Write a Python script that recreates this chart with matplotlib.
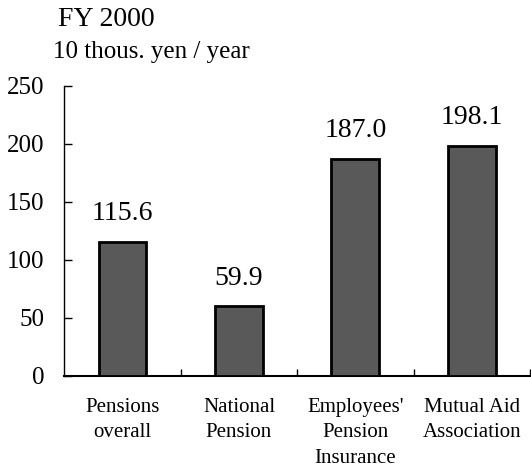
import matplotlib
matplotlib.use("Agg")
import matplotlib.pyplot as plt
import numpy as np

categories = ["Pensions\noverall", "National\nPension", "Employees'\nPension\nInsurance", "Mutual Aid\nAssociation"]
values = [115.6, 59.9, 187.0, 198.1]
value_labels = ["115.6", "59.9", "187.0", "198.1"]
yticks = [0, 50, 100, 150, 200, 250]

plt.rcParams['font.family'] = ['Liberation Serif', 'DejaVu Serif']

fig = plt.figure(figsize=(5.31, 4.73), dpi=100)
ax = fig.add_axes([64.3/531, 1-375.7/473, (530-64.3)/531, (375.7-85.7)/473])

x = np.arange(len(categories))
ax.bar(x, values, width=0.41, color='#595959', edgecolor='black', linewidth=2.0, zorder=3)

for xi, v, lab in zip(x, values, value_labels):
    ax.annotate(lab, (xi, v), xytext=(0, 15.5), textcoords='offset points',
                ha='center', va='baseline', fontsize=20)

ax.set_xlim(-0.5, 3.5)
ax.set_ylim(0, 250)
ax.set_yticks(yticks)
ax.set_yticklabels([str(t) for t in yticks], fontsize=18)
ax.set_xticks(x)
ax.set_xticklabels(categories, fontsize=15, linespacing=1.45)
ax.set_xticks([0.5, 1.5, 2.5, 3.5], minor=True)
ax.tick_params(axis='x', which='major', length=0, pad=16)
ax.tick_params(axis='x', which='minor', direction='in', length=5, width=1)
ax.tick_params(axis='y', direction='in', length=6, width=1, pad=14)

for s in ['top', 'right']:
    ax.spines[s].set_visible(False)
ax.spines['left'].set_linewidth(1.0)
ax.spines['bottom'].set_linewidth(1.5)

fig.text(58/531, 1-26/473, "FY 2000", fontsize=20, ha='left', va='baseline')
fig.text(53/531, 1-58/473, "10 thous. yen / year", fontsize=18, ha='left', va='baseline')

fig.savefig("out.png", dpi=100)
